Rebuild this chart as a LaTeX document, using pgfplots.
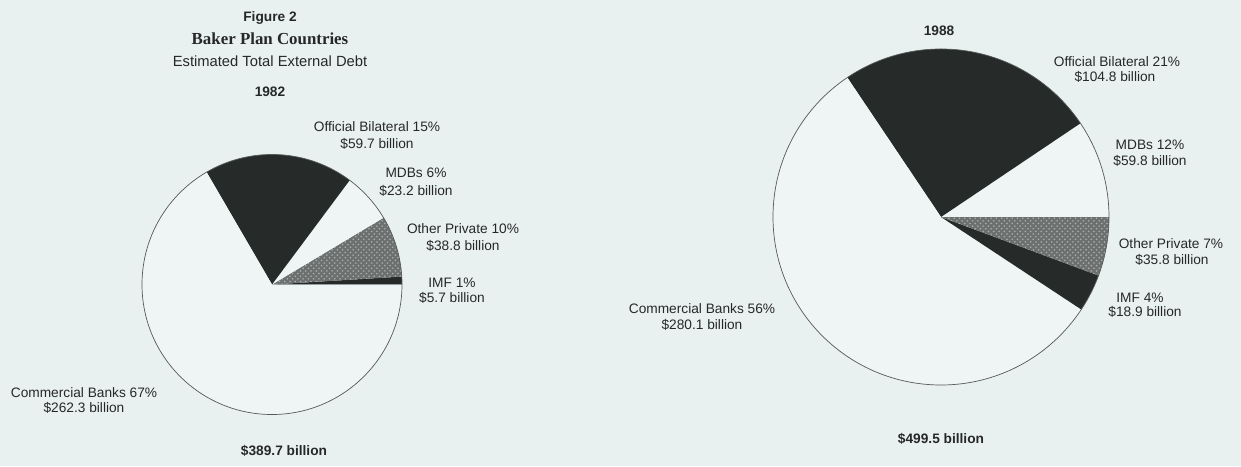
\documentclass[border=0pt]{standalone}
\usepackage{fontspec}
\setmainfont{Liberation Sans}
\newfontfamily\timesfont{Liberation Serif}
\usepackage{pgfplots}
\usepackage{pgfplotstable}
\pgfplotsset{compat=1.18}
\usetikzlibrary{patterns}
\definecolor{bgc}{HTML}{E9F1F0}
\definecolor{lightc}{HTML}{EFF5F4}
\definecolor{darkc}{HTML}{262A29}
\definecolor{stipc}{HTML}{6C706F}
\definecolor{txtc}{HTML}{262828}
\definecolor{rimc}{HTML}{555958}
\tikzset{
  darkslice/.style={fill=darkc},
  lightslice/.style={fill=lightc},
  stipslice/.style={fill=stipc, postaction={pattern=crosshatch dots, pattern color=stipc!55!white}},
  lbl/.style={anchor=base, inner sep=0pt, text=txtc, font=\fontsize{7.8}{9}\selectfont},
  blbl/.style={anchor=base, inner sep=0pt, text=txtc, font=\fontsize{7.8}{9}\selectfont\bfseries},
}
% slice extents (degrees, counter-clockwise from 3 o'clock) as drawn in the figure
\pgfplotstableread{
id start end shade
IMF 0 3.5 darkslice
Other 3.5 30.9 stipslice
MDBs 30.9 53.3 lightslice
Official 53.3 120.2 darkslice
Commercial 120.2 360 lightslice
}\slicesA
\pgfplotstableread{
id start end shade
MDBs 0 33.9 lightslice
Official 33.9 123.9 darkslice
Commercial 123.9 326.6 lightslice
IMF 326.6 339.6 darkslice
Other 339.6 360 stipslice
}\slicesB
\newcommand\drawpie[4]{%
  \pgfplotsinvokeforeach{0,...,4}{%
    \pgfplotstablegetelem{##1}{start}\of#1\edef\pa{\pgfplotsretval}%
    \pgfplotstablegetelem{##1}{end}\of#1\edef\pb{\pgfplotsretval}%
    \pgfplotstablegetelem{##1}{shade}\of#1\edef\ps{\pgfplotsretval}%
    \edef\doit{\noexpand\fill[\ps] (axis cs:#2,#3) -- ++(\pa:#4) arc[start angle=\pa,end angle=\pb,radius=#4] -- cycle;}%
    \doit
  }%
  \draw[rimc, line width=0.4pt] (axis cs:#2,#3) circle[radius=#4];
}
\begin{document}
\begin{tikzpicture}
\begin{axis}[width=24.82cm, height=9.32cm, scale only axis,
  xmin=0, xmax=1241, ymin=0, ymax=466, y dir=reverse,
  hide axis, clip=false]
\fill[bgc] (axis cs:0,0) rectangle (axis cs:1241,466);
\drawpie{\slicesA}{272}{284.5}{2.6cm}
\drawpie{\slicesB}{941}{217}{3.36cm}
% titles
\node[blbl] at (axis cs:270,22) {Figure 2};
\node[anchor=base, inner sep=0pt, text=txtc, font=\timesfont\fontsize{9.6}{11}\selectfont\bfseries] at (axis cs:270,45) {Baker Plan Countries};
\node[anchor=base, inner sep=0pt, text=txtc, font=\fontsize{8.4}{10}\selectfont] at (axis cs:270,67) {Estimated Total External Debt};
\node[blbl] at (axis cs:270,97) {1982};
\node[blbl] at (axis cs:939,36) {1988};
% 1982 labels
\node[lbl] at (axis cs:377,132) {Official Bilateral 15\%};
\node[lbl] at (axis cs:377,149) {\$59.7 billion};
\node[lbl] at (axis cs:416,177) {MDBs 6\%};
\node[lbl] at (axis cs:416,195) {\$23.2 billion};
\node[lbl] at (axis cs:463,233) {Other Private 10\%};
\node[lbl] at (axis cs:463,250) {\$38.8 billion};
\node[lbl] at (axis cs:452,287) {IMF 1\%};
\node[lbl] at (axis cs:452,302) {\$5.7 billion};
\node[lbl] at (axis cs:84,397) {Commercial Banks 67\%};
\node[lbl] at (axis cs:84,412) {\$262.3 billion};
\node[blbl] at (axis cs:284,455) {\$389.7 billion};
% 1988 labels
\node[lbl] at (axis cs:1117,67) {Official Bilateral 21\%};
\node[lbl] at (axis cs:1115,82) {\$104.8 billion};
\node[lbl] at (axis cs:1150,150) {MDBs 12\%};
\node[lbl] at (axis cs:1150,165) {\$59.8 billion};
\node[lbl] at (axis cs:1171,248) {Other Private 7\%};
\node[lbl] at (axis cs:1172,264) {\$35.8 billion};
\node[lbl] at (axis cs:1140,302) {IMF 4\%};
\node[lbl] at (axis cs:1145,316) {\$18.9 billion};
\node[lbl] at (axis cs:702,313) {Commercial Banks 56\%};
\node[lbl] at (axis cs:702,329) {\$280.1 billion};
\node[blbl] at (axis cs:941,443) {\$499.5 billion};
\end{axis}
\end{tikzpicture}
\end{document}
